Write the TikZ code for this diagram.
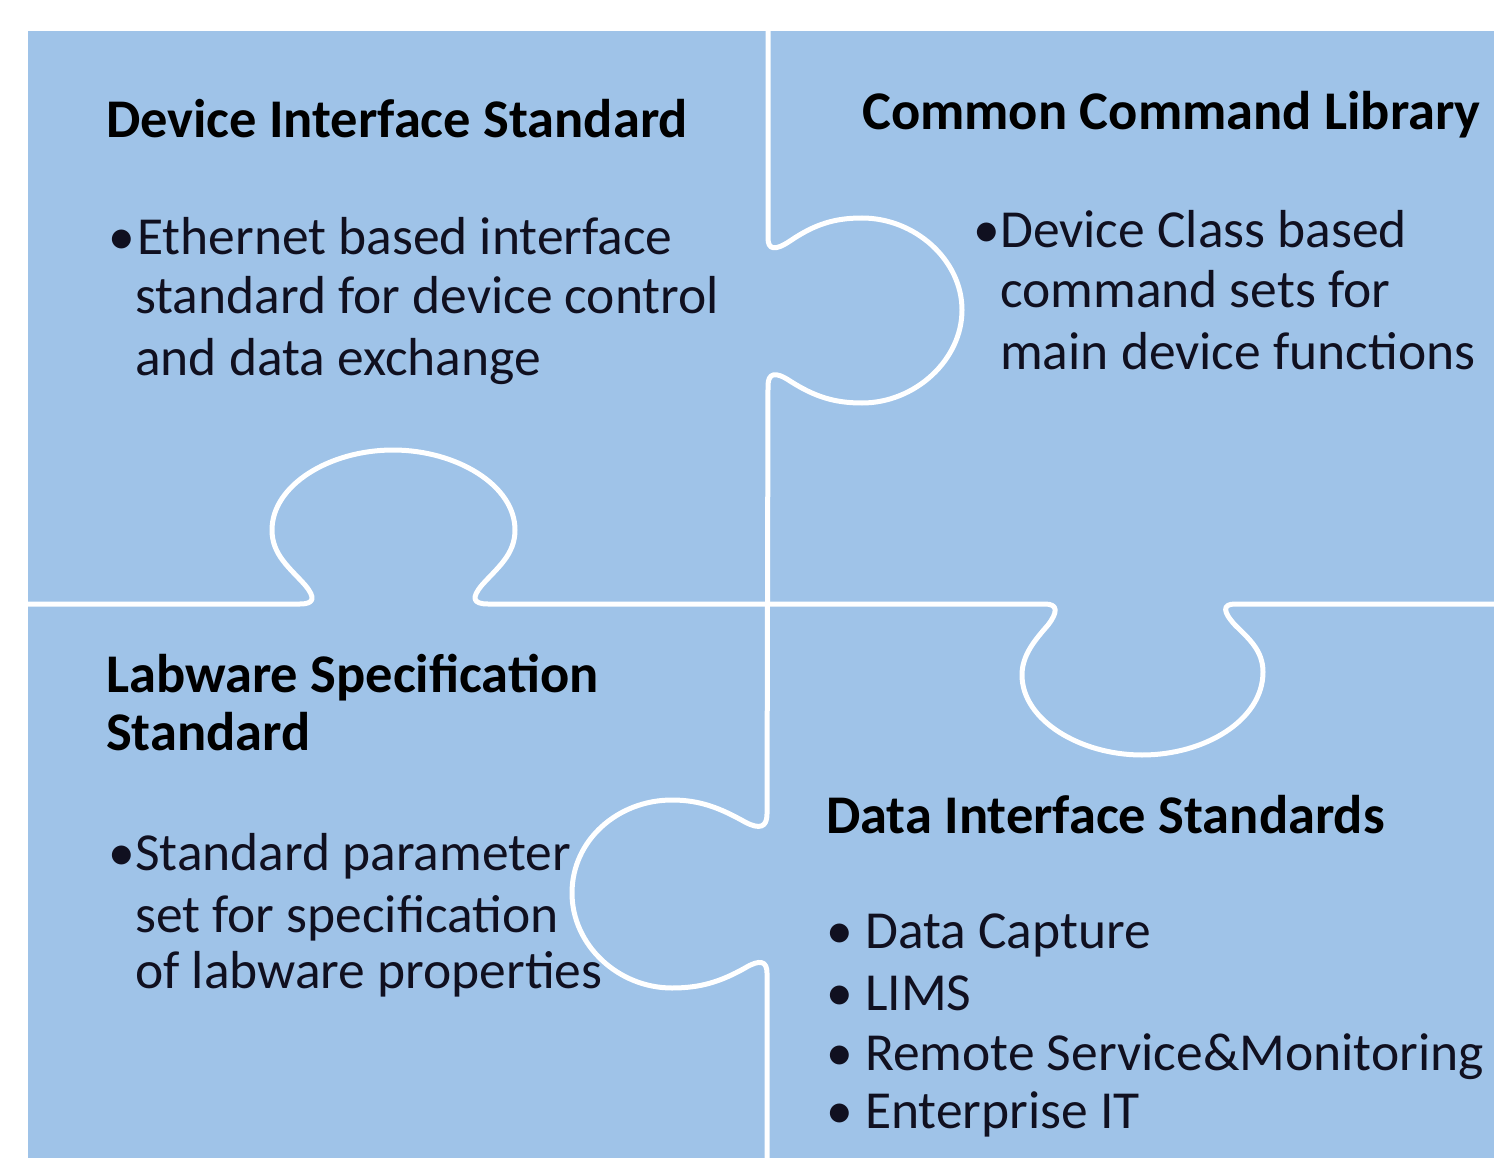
\documentclass[tikz,border=0pt]{standalone}
\usepackage{fontspec}
\setmainfont{Carlito}
\usepackage{tikz}

\definecolor{pieceblue}{HTML}{9FC3E8}
\definecolor{inkdark}{HTML}{101020}

\tikzset{
  head/.style={anchor=base west,inner sep=0pt,text=black,font=\fontsize{54.5}{60}\selectfont\bfseries},
  body/.style={anchor=base west,inner sep=0pt,text=inkdark,font=\fontsize{53.5}{60}\selectfont},
  seam/.style={draw=white,line width=5pt,line join=round}
}

\begin{document}
\begin{tikzpicture}[x=1pt,y=-1pt]
  \useasboundingbox (0,0) rectangle (1494,1158);
  \fill[pieceblue] (28,31) rectangle (1494,1158);

  % vertical seam with the two tabs
  \draw[seam] (768,31) -- (768,238)
    .. controls (768,250) and (775,251) .. (790,241)
    .. controls (815,224) and (835,218) .. (862,218)
    .. controls (915,218) and (962,260) .. (962,310)
    .. controls (962,360) and (915,403) .. (862,403)
    .. controls (835,403) and (815,397) .. (790,381)
    .. controls (775,371) and (768,373) .. (768,386)
    -- (767,814)
    .. controls (767,827) and (760,830) .. (745,822)
    .. controls (720,808) and (700,800) .. (672,800)
    .. controls (618,800) and (572,840) .. (572,893)
    .. controls (572,945) and (618,988) .. (672,988)
    .. controls (700,988) and (720,982) .. (745,968)
    .. controls (760,959) and (767,961) .. (767,973)
    -- (767,1158);

  % horizontal seam with the two tabs
  \draw[seam] (28,604) -- (300,604)
    .. controls (314,604) and (316,598) .. (305,585)
    .. controls (290,568) and (272,555) .. (272,530)
    .. controls (272,485) and (330,450) .. (393,450)
    .. controls (456,450) and (515,485) .. (515,530)
    .. controls (515,555) and (497,568) .. (482,585)
    .. controls (471,598) and (473,604) .. (488,604)
    -- (1045,604)
    .. controls (1058,604) and (1058,612) .. (1048,625)
    .. controls (1035,640) and (1022,655) .. (1022,675)
    .. controls (1022,720) and (1080,755) .. (1142,755)
    .. controls (1205,755) and (1263,720) .. (1263,672)
    .. controls (1263,650) and (1248,638) .. (1235,625)
    .. controls (1223,612) and (1222,604) .. (1235,604)
    -- (1494,604);

  % top left piece
  \node[head] (devhead) at (106,138) {Device Interface Standard};
  \node[body] (devbul) at (108,255) {•};
  \node[body] (dev1) at (137,255) {Ethernet based interface};
  \node[body] (dev2) at (135,313) {standard for device control};
  \node[body] (dev3) at (135,375) {and data exchange};

  % top right piece
  \node[head] (cmdhead) at (862,130) {Common Command Library};
  \node[body] (cmdbul) at (973,248) {•};
  \node[body] (cmd1) at (1000,248) {Device Class based};
  \node[body] (cmd2) at (1000,308) {command sets for};
  \node[body] (cmd3) at (1000,370) {main device functions};

  % bottom left piece
  \node[head] (labhead1) at (106,692) {Labware Specification};
  \node[head] (labhead2) at (106,750) {Standard};
  \node[body] (labbul) at (108,870) {•};
  \node[body] (lab1) at (135,870) {Standard parameter};
  \node[body] (lab2) at (135,932) {set for specification};
  \node[body] (lab3) at (135,988) {of labware properties};

  % bottom right piece
  \node[head] (datahead) at (826,833) {Data Interface Standards};
  \node[body] (datbul1) at (826,948) {•};
  \node[body] (dat1) at (865,948) {Data Capture};
  \node[body] (datbul2) at (826,1010) {•};
  \node[body] (dat2) at (865,1010) {LIMS};
  \node[body] (datbul3) at (826,1070) {•};
  \node[body] (dat3) at (865,1070) {Remote Service\&Monitoring};
  \node[body] (datbul4) at (826,1128) {•};
  \node[body] (dat4) at (865,1128) {Enterprise IT};
\end{tikzpicture}
\end{document}
